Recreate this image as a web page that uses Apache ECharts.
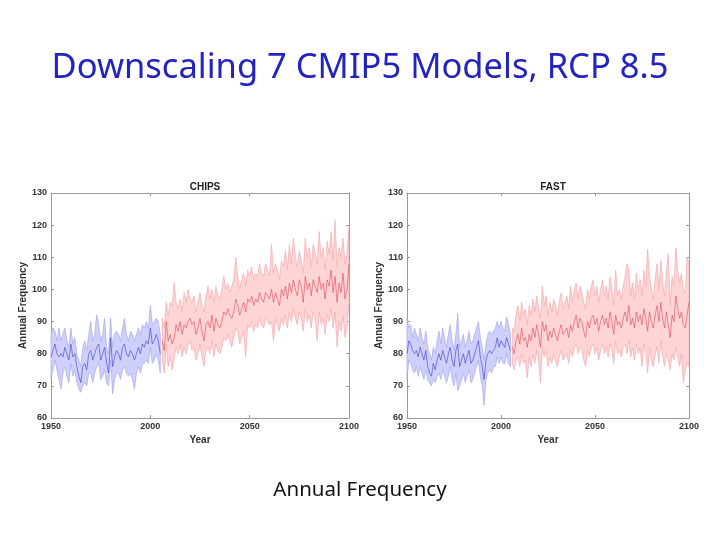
<!DOCTYPE html>
<html>
<head>
<meta charset="utf-8">
<script src="https://cdn.jsdelivr.net/npm/echarts@6/dist/echarts.min.js"></script>
<style>
html,body{margin:0;padding:0;background:#fff;}
#main{width:720px;height:540px;}
</style>
</head>
<body>
<div id="main"></div>
<script>
var histStart = 1950, futStart = 2006;
var panelNames = ['CHIPS', 'FAST'];

// CHIPS, 1950-2005
var chipsHistMean = [79,81,83,80,79,80,79,82,80,78, 83,79,80,76,73,71,76,77,75,80, 81,78,80,82,83,78,80,82,77,74,
  85,76,79,81,80,78,82,83,80,79, 81,80,78,80,82,80,83,82,84,83, 88,83,84,86,84,80];
var chipsHistUpper = [86,88,87,84,88,84,86,88,84,82, 88,83,85,80,78,76,82,84,81,86, 90,84,86,92,89,84,86,91,82,80,
  91,82,86,87,86,84,88,91,86,84, 87,86,84,86,88,86,89,88,90,88, 95,89,90,91,90,86];
var chipsHistLower = [72,75,78,75,72,69,74,76,73,71, 77,73,75,71,69,68,70,71,70,74, 74,71,74,76,77,72,73,75,71,70,
  78,67.5,72,74,74,72,75,76,74,73, 74,72,69,74,76,74,77,77,78,77, 82,77,78,80,78,74];
// CHIPS, 2006-2100
var chipsFutMean = [84,81,90,84,86,83,85,89,87,90, 86,89,88,90,91,89,90,86,88,91, 87,84,89,90,88,92,87,91,89,88,
  90,93,92,94,92,91,93,97,95,92, 94,96,93,97,96,98,95,97,96,99, 97,96,99,98,97,100,96,99,97,95,
  100,98,101,97,102,99,103,100,98,103, 101,96,104,100,102,98,103,101,99,104, 100,102,97,103,101,106,99,104,96,102,
  99,105,97,100,108];
var chipsFutUpper = [91,88,96,92,96,95,102,96,94,97, 93,99,96,100,97,96,98,93,96,99, 95,93,98,101,97,100,96,101,98,97,
  100,104,100,102,99,101,103,110,104,100, 103,105,101,106,104,107,103,105,104,108, 105,104,108,106,104,114,105,108,106,103,
  109,107,112,106,114,108,116,110,107,112, 109,105,116,110,113,107,114,111,108,118, 110,113,106,115,111,118,109,121.5,107,113,
  110,116,108,111,120];
var chipsFutLower = [78,74,83,76,79,75,79,82,80,83, 79,82,80,83,84,81,82,78,80,83, 79,76,81,82,80,84,79,83,81,80,
  82,85,84,86,84,82,85,88,87,83, 85,87,79,89,88,90,87,89,88,91, 89,88,91,90,89,90,84,91,89,87,
  91,89,92,88,93,90,94,91,89,93, 91,87,94,90,92,88,93,91,84,93, 89,91,86,92,90,94,88,93,82,90,
  87,92,85,88,96];

// FAST, 1950-2005
var fastHistMean = [80,84,83,81,80,81,79,82,80,78, 81,76,74,73,77,75,78,80,78,81, 79,77,80,82,78,76,81,83,76,78,
  80,77,79,81,77,78,80,82,84,79, 76,72,78,80,81,80,81,82,85,82, 84,83,82,85,83,81];
var fastHistUpper = [91,88,89,85,88,86,84,88,85,83, 87,82,80,78,82,80,84,87,83,88, 85,82,86,89,84,81,86,92.5,82,84,
  86,82,84,87,83,84,86,88,90,85, 82,78,83,86,87,86,87,88,90,88, 90,88,87,91.5,89,86];
var fastHistLower = [72.5,78,77,75,74,76,73,76,74,72, 75,72,71,70,72,71,73,74,72,75, 73,71,73,76,72,70,74,68.5,70,72,
  74,71,73,75,71,72,74,76,78,73, 70,64,72,74,75,74,76,76,79,77, 79,77,77,80,77,76];
// FAST, 2006-2100
var fastFutMean = [82,80,84,86,83,88,84,85,82,86, 84,88,85,89,86,82,90,87,89,84, 87,85,88,86,84,87,89,86,87,88,
  85,89,87,90,92,88,91,90,87,85, 90,88,91,92,89,91,87,90,92,89, 91,88,93,90,86,92,89,90,88,91,
  93,90,95,89,91,88,93,90,92,89, 94,91,87,93,90,88,92,95,90,96, 91,88,93,89,85,92,90,98,94,91,
  93,89,88,88,96];
var fastFutUpper = [88,87,92,95,90,96,92,94,89,95, 92,97,93,98,94,91,101,95,98,92, 96,93,97,95,92,96,99,94,96,98,
  94,101,96,100,102,97,101,99,96,94, 100,97,101,103,98,101,96,100,103,98, 101,97,104,100,95,106,98,100,97,101,
  104,108,106,98,102,97,105,100,103,98, 106,101,112.5,104,100,97,103,108,100,109, 102,98,106,111,95,104,101,113,106,102,
  105,100,99,110,108];
var fastFutLower = [77,75,78,79,76,80,77,78,72.5,79, 76,80,77,81,78,71,82,79,81,76, 79,77,80,78,76,79,81,78,79,80,
  77,81,79,82,83,80,82,81,78,76, 81,79,82,83,80,82,78,81,83,80, 82,79,83,81,77,84,80,81,79,82,
  83,80,84,79,82,78,83,80,82,76, 83,80,74,82,78,76,80,82,77,84, 79,76,80,78,75,80,78,82,79,76,
  80,71,75,77,76];

var pairs = function(start, arr){
    return arr.map(function(v, i){ return [start + i, v]; });
};

// band = one polygon, upper edge left to right then lower edge back
var band = function(idx, start, lo, hi, fill, edge){
    return {
        type:'custom', xAxisIndex:idx, yAxisIndex:idx, silent:true, z:2,
        data:lo.map(function(v, i){ return [start + i, v, hi[i]]; }),
        renderItem:function(params, api){
            if(params.dataIndex !== 0) return;
            var top = [], bot = [];
            for(var i = 0; i < lo.length; i++){
                top.push(api.coord([start + i, hi[i]]));
                bot.push(api.coord([start + i, lo[i]]));
            }
            return {type:'polygon', shape:{points:top.concat(bot.reverse())},
                    style:{fill:fill, stroke:edge, lineWidth:0.7}};
        }
    };
};
var meanLine = function(idx, start, mean, color){
    return {type:'line', xAxisIndex:idx, yAxisIndex:idx, data:pairs(start, mean), symbol:'none',
            lineStyle:{color:color, width:0.6}, silent:true, z:3};
};

var blueFill = '#cfcffb', blueEdge = '#a8a8ee', blueLine = '#3a3ac8';
var redFill = '#ffd4d4', redEdge = '#f2abaf', redLine = '#d8485a';

var series = [
    band(0, histStart, chipsHistLower, chipsHistUpper, blueFill, blueEdge),
    band(0, futStart, chipsFutLower, chipsFutUpper, redFill, redEdge),
    band(1, histStart, fastHistLower, fastHistUpper, blueFill, blueEdge),
    band(1, futStart, fastFutLower, fastFutUpper, redFill, redEdge),
    meanLine(0, histStart, chipsHistMean, blueLine),
    meanLine(0, futStart, chipsFutMean, redLine),
    meanLine(1, histStart, fastHistMean, blueLine),
    meanLine(1, futStart, fastFutMean, redLine)
];

var axisColor = '#9a9a9a';
var labelStyle = {color:'#333', fontSize:9, fontWeight:'bold', fontFamily:'Liberation Sans'};
var plain = function(v){ return String(v); };

var xBottom = function(gi){
    return {type:'value', gridIndex:gi, min:1950, max:2100, interval:50, position:'bottom',
        name:'Year', nameLocation:'middle', nameGap:17,
        nameTextStyle:{color:'#333', fontSize:10, fontWeight:'bold', fontFamily:'Liberation Sans'},
        axisLine:{lineStyle:{color:axisColor}}, axisTick:{inside:true, length:3, lineStyle:{color:axisColor}},
        axisLabel:Object.assign({margin:4, formatter:plain}, labelStyle), splitLine:{show:false}};
};
var xTop = function(gi){
    return {type:'value', gridIndex:gi, min:1950, max:2100, interval:50, position:'top',
        axisLine:{lineStyle:{color:axisColor}}, axisTick:{inside:true, length:3, lineStyle:{color:axisColor}},
        axisLabel:{show:false}, splitLine:{show:false}};
};
var yLeft = function(gi){
    return {type:'value', gridIndex:gi, min:60, max:130, interval:10, position:'left',
        name:'Annual Frequency', nameLocation:'middle', nameGap:20,
        nameTextStyle:{color:'#333', fontSize:10, fontWeight:'bold', fontFamily:'Liberation Sans'},
        axisLine:{show:true, lineStyle:{color:axisColor}}, axisTick:{show:true, inside:true, length:3, lineStyle:{color:axisColor}},
        axisLabel:Object.assign({margin:4}, labelStyle), splitLine:{show:false}};
};
var yRight = function(gi){
    return {type:'value', gridIndex:gi, min:60, max:130, interval:10, position:'right',
        axisLine:{show:true, lineStyle:{color:axisColor}}, axisTick:{show:true, inside:true, length:3, lineStyle:{color:axisColor}},
        axisLabel:{show:false}, splitLine:{show:false}};
};

var chart = echarts.init(document.getElementById('main'), null, {renderer:'canvas'});
chart.setOption({
    backgroundColor:'#fff',
    animation:false,
    title:[
        {text:'Downscaling 7 CMIP5 Models, RCP 8.5', left:'center', top:46,
         textStyle:{color:'#2323c0', fontSize:34.5, fontWeight:'normal', fontFamily:'Noto Sans'}},
        {text:panelNames[0], left:200, top:177, textAlign:'center',
         textStyle:{color:'#222', fontSize:10, fontWeight:'bold', fontFamily:'Liberation Sans'}},
        {text:panelNames[1], left:548, top:177, textAlign:'center',
         textStyle:{color:'#222', fontSize:10, fontWeight:'bold', fontFamily:'Liberation Sans'}},
        {text:'Annual Frequency', left:'center', top:475,
         textStyle:{color:'#111', fontSize:20.5, fontWeight:'normal', fontFamily:'Noto Sans'}}
    ],
    grid:[
        {left:51, top:193, width:298, height:225},
        {left:407, top:193, width:282, height:225}
    ],
    xAxis:[xBottom(0), xBottom(1), xTop(0), xTop(1)],
    yAxis:[yLeft(0), yLeft(1), yRight(0), yRight(1)],
    series:series
});
</script>
</body>
</html>
